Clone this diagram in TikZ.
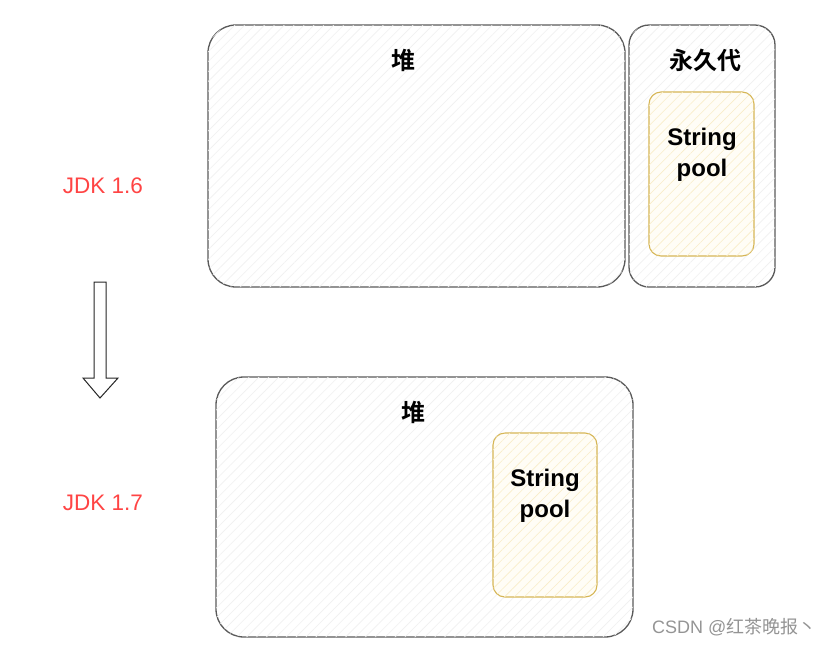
\documentclass[tikz,border=0pt]{standalone}
\usepackage{fontspec}
\setmainfont{Liberation Sans}
\newfontfamily\cjk{Noto Sans CJK SC}[BoldFont=* Bold]
\usetikzlibrary{patterns.meta}
\definecolor{poolline}{HTML}{D6B656}
\definecolor{poolfill}{HTML}{FFFDF6}
\definecolor{poolhatch}{HTML}{F9EDC8}
\definecolor{jdkred}{HTML}{FF4444}
\definecolor{boxline}{HTML}{5A5A5A}
\tikzset{
  region/.style={draw=boxline, line width=1.3pt, fill=white, rectangle, inner sep=0pt,
    postaction={pattern={Lines[angle=45,distance=7pt,line width=0.6pt]}, pattern color=black!6}},
  pool/.style={draw=poolline, line width=1.1pt, fill=poolfill, rectangle, inner sep=0pt, rounded corners=12pt,
    minimum width=105pt, minimum height=164pt,
    postaction={pattern={Lines[angle=45,distance=7pt,line width=0.6pt]}, pattern color=poolhatch}},
  title/.style={font=\cjk\bfseries\fontsize{24}{28}\selectfont, text=black},
  pooltext/.style={font=\bfseries\fontsize{24}{31}\selectfont, align=center, text=black},
  jdk/.style={font=\fontsize{22.5}{26}\selectfont, text=jdkred},
  bigarrow/.style={draw=black!85, line width=1pt, fill=white, line join=miter},
  watermark/.style={font=\fontsize{18}{21}\selectfont, text=black!42},
}
\begin{document}
\begin{tikzpicture}[x=1pt,y=-1pt]
\useasboundingbox (0,0) rectangle (829,646);
% JDK 1.6
\node[region, rounded corners=28pt, minimum width=417pt, minimum height=262pt] (heapA) at (416.5,156) {};
\node[title] (heapAt) at (403,60) {堆};
\node[region, rounded corners=20pt, minimum width=146pt, minimum height=262pt] (perm) at (702,156) {};
\node[title] (permt) at (705,60) {永久代};
\node[pool] (poolA) at (701.5,174) {};
\node[pooltext] (poolAt) at (702,154.5) {String\\pool};
\node[jdk] (jdkA) at (103,186) {JDK 1.6};
% arrow
\coordinate (arrowtop) at (100,282);
\draw[bigarrow] (94,282) -- (106,282) -- (106,378) -- (118,378) -- (100,398) -- (83,378) -- (94,378) -- cycle;
% JDK 1.7
\node[region, rounded corners=28pt, minimum width=417pt, minimum height=260pt] (heapB) at (424.5,507) {};
\node[title] (heapBt) at (413,412) {堆};
\node[pool, minimum width=104pt] (poolB) at (545,515) {};
\node[pooltext] (poolBt) at (545,496) {String\\pool};
\node[jdk] (jdkB) at (103,503) {JDK 1.7};
% watermark
\node[watermark, anchor=east] (wm) at (820,627) {CSDN @{\cjk 红茶晚报丶}};
\end{tikzpicture}
\end{document}
